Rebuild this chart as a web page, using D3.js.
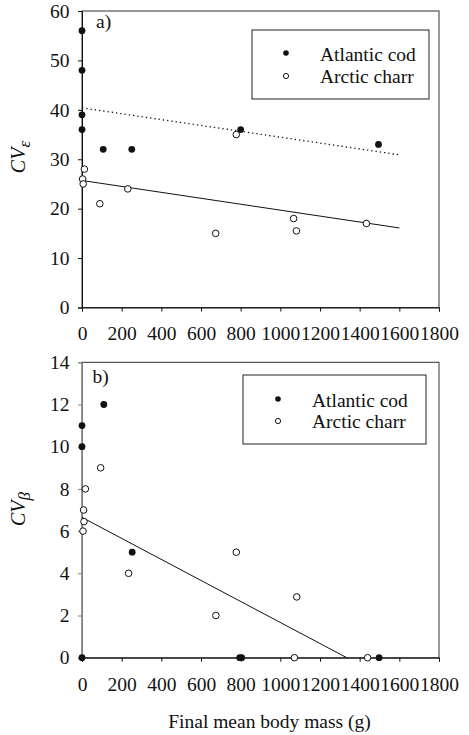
<!DOCTYPE html>
<html>
<head>
<meta charset="utf-8">
<script src="https://cdn.jsdelivr.net/npm/d3@7"></script>
<style>
  body { margin: 0; background: #fff; }
</style>
</head>
<body>
<svg id="chart" width="469" height="735"></svg>
<script>
// panel a) CV epsilon vs final mean body mass
var codMassA = [0, 0, 0, 0, 107, 251, 800, 1495];
var codCvEps = [56, 48, 39, 36, 32, 32, 36, 33];
var charrMassA = [12, 3, 6, 90, 231, 674, 778, 1067, 1081, 1434];
var charrCvEps = [28, 26, 25, 21, 24, 15, 35, 18, 15.5, 17];
var codFitA = [[0, 40.4], [1600, 30.9]];
var charrFitA = [[0, 25.7], [1600, 16.1]];

// panel b) CV beta vs final mean body mass
var codMassB = [0, 0, 110, 253, 0, 795, 805, 1498];
var codCvBeta = [11, 10, 12, 5, 0, 0, 0, 0];
var charrMassB = [94, 17, 8, 10, 5, 235, 675, 778, 1083, 1071, 1440];
var charrCvBeta = [9, 8, 7, 6.45, 6, 4, 2, 5, 2.88, 0, 0];
var charrFitB = [[0, 6.65], [1335, 0]];

var xTicks = [0, 200, 400, 600, 800, 1000, 1200, 1400, 1600, 1800];
var yTicksA = [0, 10, 20, 30, 40, 50, 60];
var yTicksB = [0, 2, 4, 6, 8, 10, 12, 14];

var font = "'Liberation Serif', 'Times New Roman', serif";
var fs = 19.5;
var svg = d3.select("#chart");
var left = 82, right = 439;

var x = d3.scaleLinear().domain([0, 1800]).range([left, right]);

function txt(sel, size) {
    return sel.style("font-family", font).style("font-size", size + "px").attr("fill", "#111");
}

function panel(opt) {
    var y = d3.scaleLinear().domain(opt.yDomain).range([opt.bottom, opt.top]);
    var g = svg.append("g");

    // frame
    g.append("rect")
        .attr("x", left).attr("y", opt.top)
        .attr("width", right - left).attr("height", opt.bottom - opt.top)
        .attr("fill", "none").attr("stroke", "#333").attr("stroke-width", 1);

    var xAxis = g.append("g")
        .attr("transform", "translate(0," + opt.bottom + ")")
        .call(d3.axisBottom(x).tickValues(xTicks).tickSize(4).tickPadding(15).tickFormat(d3.format("d")));
    var yAxis = g.append("g")
        .attr("transform", "translate(" + left + ",0)")
        .call(d3.axisLeft(y).tickValues(opt.yTicks).tickSize(4).tickPadding(8.5));
    [xAxis, yAxis].forEach(function(a){
        a.attr("font-family", null).attr("font-size", null);
        a.select(".domain").attr("stroke", "#111");
        a.selectAll(".tick line").attr("stroke", "#111");
        txt(a.selectAll(".tick text"), fs);
    });
    yAxis.select(".domain").attr("stroke", opt.yAxisColor);
    yAxis.selectAll(".tick line").attr("stroke", opt.yAxisColor);

    var line = d3.line().x(function(d){ return x(d[0]); }).y(function(d){ return y(d[1]); });
    opt.fits.forEach(function(f){
        g.append("path").datum(f.data)
            .attr("d", line)
            .attr("fill", "none")
            .attr("stroke", "#111")
            .attr("stroke-width", f.dotted ? 1.3 : 1)
            .attr("stroke-dasharray", f.dotted ? "1.3,3" : null);
    });

    g.selectAll(".charr").data(opt.charrX)
        .enter().append("circle")
        .attr("cx", function(d){ return x(d); })
        .attr("cy", function(d, i){ return y(opt.charrY[i]); })
        .attr("r", 3.3)
        .attr("fill", "#fff").attr("stroke", "#111").attr("stroke-width", 1);

    g.selectAll(".cod").data(opt.codX)
        .enter().append("circle")
        .attr("cx", function(d){ return x(d); })
        .attr("cy", function(d, i){ return y(opt.codY[i]); })
        .attr("r", 3.4)
        .attr("fill", "#111");

    txt(g.append("text").attr("x", opt.tag[0]).attr("y", opt.tag[1]), fs).text(opt.label);

    // legend
    var L = opt.legend;
    g.append("rect").attr("x", L.x).attr("y", L.y).attr("width", L.w).attr("height", L.h)
        .attr("fill", "#fff").attr("stroke", "#222").attr("stroke-width", 1);
    g.append("circle").attr("cx", L.sx).attr("cy", L.y1).attr("r", 2.8).attr("fill", "#111");
    g.append("circle").attr("cx", L.sx).attr("cy", L.y2).attr("r", 2.6)
        .attr("fill", "#fff").attr("stroke", "#111").attr("stroke-width", 1);
    txt(g.append("text").attr("x", L.tx).attr("y", L.y1 + 8), fs).text("Atlantic cod");
    txt(g.append("text").attr("x", L.tx).attr("y", L.y2 + 7), fs).text("Arctic charr");

    // y axis title
    var t = txt(g.append("text")
        .attr("transform", "translate(" + 25 + "," + opt.titleY + ") rotate(-90)")
        .attr("text-anchor", "middle"), 20)
        .style("font-style", "italic");
    t.append("tspan").text("CV");
    t.append("tspan").attr("dy", 5).style("font-size", "17px").text(opt.sub);
}

panel({
    top: 11, bottom: 307.5, yDomain: [0, 60], yTicks: yTicksA, yAxisColor: "#111",
    codX: codMassA, codY: codCvEps, charrX: charrMassA, charrY: charrCvEps,
    fits: [{data: codFitA, dotted: true}, {data: charrFitA, dotted: false}],
    label: "a)", tag: [96, 28],
    legend: {x: 252, y: 30, w: 177, h: 69, sx: 286, y1: 53, y2: 76, tx: 320},
    titleY: 157, sub: "\u03B5"
});

panel({
    top: 362.3, bottom: 657.7, yDomain: [0, 14], yTicks: yTicksB, yAxisColor: "#808080",
    codX: codMassB, codY: codCvBeta, charrX: charrMassB, charrY: charrCvBeta,
    fits: [{data: charrFitB, dotted: false}],
    label: "b)", tag: [92.5, 383],
    legend: {x: 243, y: 375, w: 183, h: 69, sx: 278, y1: 399, y2: 421, tx: 312},
    titleY: 509, sub: "\u03B2"
});

txt(svg.append("text")
    .attr("x", 269.5).attr("y", 728)
    .attr("text-anchor", "middle"), 19.5)
    .text("Final mean body mass (g)");
</script>
</body>
</html>
